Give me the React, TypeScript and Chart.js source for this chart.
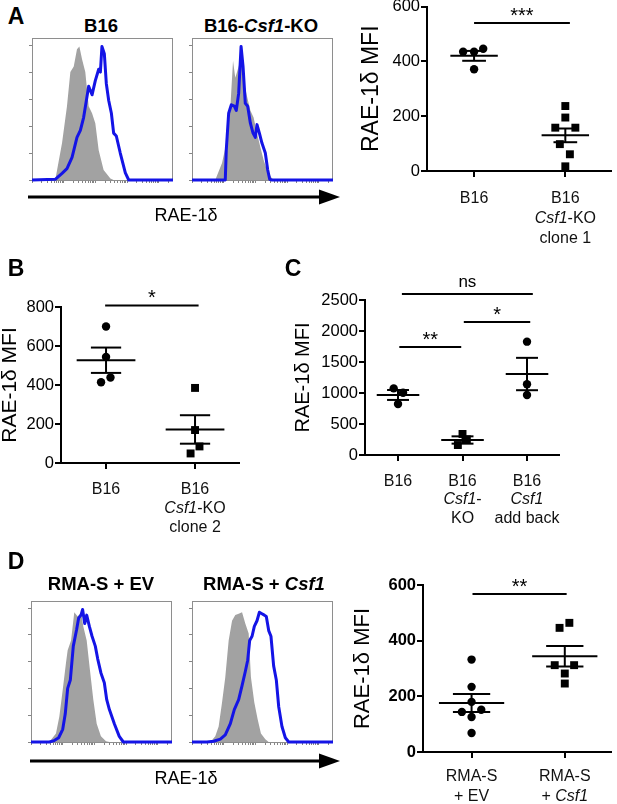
import React, { useEffect, useRef } from "react";
import { Chart, registerables } from "chart.js";

Chart.register(...registerables);

const FONT = "'Liberation Sans', Arial, Helvetica, sans-serif";

// ================= DATA =================
// Flow histograms: x = position along RAE-1δ axis (% of axis), y = % of mode
const A1_ISO_X = [16.5, 21.3, 24.8, 27.2, 29.6, 31.9, 33.6, 35.5, 37.8, 40.2, 42.6, 44.9, 47.3, 50.8, 55.6, 57.9];
const A1_ISO_Y = [0, 26, 52, 76, 80, 92, 94, 85, 76, 52, 47, 40, 21, 7, 1, 0];
const A1_STAIN_X = [0, 16.5, 21.3, 24.8, 28.4, 31.9, 34.3, 36.6, 40.2, 42.6, 44.9, 47.3, 48.5, 49.6, 51.3, 52.7, 54.4, 56.3, 57.9, 59.8, 62.6, 66.2, 68.6, 100];
const A1_STAIN_Y = [0, 0.5, 4.7, 8, 16, 30, 35, 44, 66, 60, 70, 78, 76, 94, 89, 68, 56, 47, 33, 31, 19, 5, 0, 0];

const A2_ISO_X = [16.5, 21.3, 24.8, 27.2, 29.1, 30.7, 33.1, 34.8, 36.6, 39.0, 41.4, 43.7, 46.1, 48.5, 50.8, 53.2, 56.7, 59.1];
const A2_ISO_Y = [0, 12, 28, 51, 84, 72, 80, 87, 70, 59, 49, 44, 33, 23, 14, 7, 1, 0];
const A2_STAIN_X = [0, 23.6, 24.3, 26.0, 27.9, 30.0, 31.4, 33.1, 34.8, 36.2, 37.8, 39.5, 41.4, 43.3, 44.9, 46.1, 47.8, 49.6, 52.0, 53.7, 55.1, 56.7, 100];
const A2_STAIN_Y = [0, 0, 21, 47, 53, 52, 49, 61, 94, 80, 54, 52, 40, 33, 30, 39, 33, 26, 19, 7, 0.5, 0, 0];

const D1_ISO_X = [13.0, 17.7, 20.1, 22.5, 24.8, 26.0, 28.4, 30.7, 33.1, 35.5, 37.1, 39.5, 41.8, 44.2, 46.6, 49.6, 53.2, 55.6];
const D1_ISO_Y = [0, 6, 18, 37, 56, 65, 72, 92, 89, 92, 82, 72, 51, 30, 13, 4, 0.5, 0];
const D1_STAIN_X = [0, 13.0, 16.5, 19.6, 22.5, 24.3, 26.0, 27.9, 30.0, 32.4, 33.8, 35.5, 36.6, 38.1, 39.5, 41.4, 43.3, 45.6, 47.3, 49.6, 52.0, 53.7, 55.6, 59.1, 62.6, 65.5, 100];
const D1_STAIN_Y = [0, 0, 1, 3, 9, 20, 38, 44, 68, 80, 88, 90, 94, 84, 90, 82, 75, 68, 59, 49, 42, 30, 23, 13, 4, 0, 0];

const D2_ISO_X = [13.0, 16.5, 18.9, 21.3, 23.6, 26.0, 28.4, 30.7, 33.1, 35.5, 37.8, 40.2, 41.8, 44.2, 46.6, 48.9, 52.0, 54.4];
const D2_ISO_Y = [0, 4, 11, 28, 46, 72, 86, 90, 91, 92, 84, 77, 46, 28, 16, 6, 2, 0];
const D2_STAIN_X = [0, 10.6, 15.4, 20.1, 23.6, 27.2, 30.0, 33.1, 35.5, 37.8, 39.5, 40.9, 42.6, 44.2, 46.1, 47.8, 49.6, 51.3, 52.7, 54.4, 56.0, 57.9, 59.8, 61.5, 63.8, 66.2, 68.6, 100];
const D2_STAIN_Y = [0, 0, 0.5, 2, 5, 13, 23, 30, 40, 50, 58, 72, 75, 82, 86, 92, 91, 90, 89, 79, 75, 54, 44, 25, 11, 3, 0, 0];

const HIST_Y_TICKS = [0, 19, 38, 57, 76, 95];

// Panel A dot plot
const A_CATS = [["B16"], ["B16", "_Csf1_-KO", "clone 1"]];
const A_Y_TICKS = [0, 200, 400, 600];
const A_B16 = [435, 435, 446, 371];
const A_B16_JITTER = [-0.12, 0, 0.1, 0];
const A_KO = [237, 195, 158, 158, 98, 61, 17];
const A_KO_JITTER = [0, 0, -0.11, 0.11, -0.06, 0.05, 0];
const A_MEANS = [420, 130];
const A_SEMS = [18, 25];
const A_SIG = [{ from: 1.0, to: 2.05, y: 540, text: "***" }];

// Panel B dot plot
const B_CATS = [["B16"], ["B16", "_Csf1_-KO", "clone 2"]];
const B_Y_TICKS = [0, 200, 400, 600, 800];
const B_B16 = [700, 544, 438, 414];
const B_B16_JITTER = [0, 0, 0.05, -0.056];
const B_KO = [385, 169, 85, 49];
const B_KO_JITTER = [0, 0, 0.05, -0.05];
const B_MEANS = [527, 172];
const B_SEMS = [65, 73];
const B_SIG = [{ from: 0.99, to: 2.04, y: 808, text: "*" }];

// Panel C dot plot
const C_CATS = [["B16"], ["B16", "_Csf1_-", "KO"], ["B16", "_Csf1_", "add back"]];
const C_Y_TICKS = [0, 500, 1000, 1500, 2000, 2500];
const C_B16 = [1075, 1005, 823];
const C_B16_JITTER = [-0.067, 0.078, 0];
const C_KO = [339, 253, 161];
const C_KO_JITTER = [0, 0.067, -0.072];
const C_ADD = [1828, 1140, 968];
const C_ADD_JITTER = [0, 0, 0];
const C_MEANS = [968, 242, 1306];
const C_SEMS = [80, 59, 261];
const C_SIG = [
  { from: 1.06, to: 3.09, y: 2597, text: "ns" },
  { from: 1.02, to: 1.98, y: 1742, text: "**" },
  { from: 2.02, to: 3.05, y: 2145, text: "*" },
];

// Panel D dot plot
const D_CATS = [["RMA-S", "+ EV"], ["RMA-S", "+ _Csf1_"]];
const D_Y_TICKS = [0, 200, 400, 600];
const D_EV = [332, 234, 180, 144, 152, 126, 68];
const D_EV_JITTER = [0, 0, 0, -0.104, 0.104, 0, 0];
const D_CSF = [446, 464, 312, 312, 282, 246];
const D_CSF_JITTER = [-0.056, 0.049, -0.108, 0.1, 0, 0];
const D_MEANS = [176, 344];
const D_SEMS = [32, 37];
const D_SIG = [{ from: 1.01, to: 2.02, y: 568, text: "**" }];

// ================= COMPONENTS =================
type Box = { left: number; top: number; right: number; bottom: number };

function Histogram(props: { box: Box; isoX: number[]; isoY: number[]; stX: number[]; stY: number[] }) {
  const ref = useRef<HTMLCanvasElement>(null);
  const { box } = props;
  const cLeft = box.left - 6;
  const cTop = box.top - 2;
  const cW = box.right - box.left + 8;
  const cH = box.bottom - box.top + 8;
  useEffect(() => {
    const frame = {
      id: "frame",
      beforeDatasetsDraw(chart: any) {
        const { ctx, chartArea: a } = chart;
        ctx.save();
        ctx.strokeStyle = "#8e8e8e";
        ctx.lineWidth = 1;
        ctx.strokeRect(a.left + 0.5, a.top + 0.5, a.right - a.left - 1, a.bottom - a.top);
        ctx.restore();
      },
    };
    const logTicks: number[] = [];
    [0, 22.5, 45, 67.5, 90].forEach((d) => {
      for (let k = 1; k <= 9; k++) {
        const v = d + 22.5 * Math.log10(k);
        if (v <= 100) logTicks.push(v);
      }
    });
    const chart = new Chart(ref.current!, {
      type: "line",
      data: {
        datasets: [
          {
            data: props.isoX.map((x, i) => ({ x, y: props.isoY[i] })),
            fill: "origin",
            backgroundColor: "#a2a2a2",
            borderWidth: 0,
            pointRadius: 0,
            tension: 0,
            order: 2,
          },
          {
            data: props.stX.map((x, i) => ({ x, y: props.stY[i] })),
            fill: false,
            borderColor: "#1414e6",
            borderWidth: 3,
            borderJoinStyle: "round",
            pointRadius: 0,
            tension: 0,
            clip: false,
            order: 1,
          },
        ],
      } as any,
      options: {
        animation: false,
        responsive: false,
        events: [],
        layout: { padding: { left: 0, top: 2, right: 2, bottom: 0 } },
        plugins: { legend: { display: false }, tooltip: { enabled: false } },
        scales: {
          x: {
            type: "linear",
            min: 0,
            max: 100,
            afterFit: (s: any) => {
              s.height = 6;
            },
            afterBuildTicks: (s: any) => {
              s.ticks = logTicks.map((v) => ({ value: v }));
            },
            ticks: { display: false },
            grid: { drawOnChartArea: false, drawTicks: true, tickLength: 3, color: "#666", lineWidth: 0.8 },
            border: { display: false },
          },
          y: {
            type: "linear",
            min: 0,
            max: 100,
            afterFit: (s: any) => {
              s.width = 6;
            },
            afterBuildTicks: (s: any) => {
              s.ticks = HIST_Y_TICKS.map((v) => ({ value: v }));
            },
            ticks: { display: false },
            grid: { drawOnChartArea: false, drawTicks: true, tickLength: 3, color: "#666", lineWidth: 0.8 },
            border: { display: false },
          },
        },
      } as any,
      plugins: [frame],
    });
    return () => chart.destroy();
  }, []);
  return (
    <canvas
      ref={ref}
      width={cW}
      height={cH}
      style={{ position: "absolute", left: cLeft, top: cTop, width: cW, height: cH }}
    />
  );
}

type Group = { values: number[]; jitter: number[]; shape: "circle" | "rect" };
type Sig = { from: number; to: number; y: number; text: string };
type ScatterProps = {
  canvas: { left: number; top: number; width: number; height: number };
  area: Box;
  xRange: [number, number];
  yTicks: number[];
  groups: Group[];
  means: number[];
  sems: number[];
  meanHalf: number;
  semHalf: number;
  sigs: Sig[];
  cats: string[][];
  lineOffsets: number[];
  titleX: number;
  titleSize: number;
  tickSize: number;
  tickBold?: boolean;
};

function DotPlot(p: ScatterProps) {
  const ref = useRef<HTMLCanvasElement>(null);
  const c = p.canvas;
  useEffect(() => {
    const X_AXIS_H = 8;
    const padTop = p.area.top - c.top;
    const padRight = c.left + c.width - p.area.right;
    const padBottom = c.top + c.height - p.area.bottom - X_AXIS_H;
    const yAxisW = p.area.left - c.left;
    const titlePad = Math.max(0, p.titleX - c.left - (p.titleSize * 1.2) / 2);
    const overlay = {
      id: "overlay",
      afterDatasetsDraw(chart: any) {
        const { ctx } = chart;
        const x = chart.scales.x;
        const y = chart.scales.y;
        ctx.save();
        ctx.strokeStyle = "#000";
        ctx.lineWidth = 2;
        const seg = (x0: number, x1: number, yv: number) => {
          ctx.beginPath();
          ctx.moveTo(x.getPixelForValue(x0), y.getPixelForValue(yv));
          ctx.lineTo(x.getPixelForValue(x1), y.getPixelForValue(yv));
          ctx.stroke();
        };
        p.means.forEach((m, i) => {
          const cx = i + 1;
          const s = p.sems[i];
          seg(cx - p.meanHalf, cx + p.meanHalf, m);
          seg(cx - p.semHalf, cx + p.semHalf, m + s);
          seg(cx - p.semHalf, cx + p.semHalf, m - s);
          ctx.beginPath();
          ctx.moveTo(x.getPixelForValue(cx), y.getPixelForValue(m + s));
          ctx.lineTo(x.getPixelForValue(cx), y.getPixelForValue(m - s));
          ctx.stroke();
        });
        p.sigs.forEach((sg) => {
          const py = y.getPixelForValue(sg.y);
          const x0 = x.getPixelForValue(sg.from);
          const x1 = x.getPixelForValue(sg.to);
          ctx.beginPath();
          ctx.moveTo(x0, py);
          ctx.lineTo(x1, py);
          ctx.stroke();
          const isNs = sg.text === "ns";
          ctx.font = `${isNs ? 17 : 20}px ${FONT}`;
          ctx.fillStyle = "#000";
          ctx.textAlign = "center";
          ctx.textBaseline = "alphabetic";
          ctx.fillText(sg.text, (x0 + x1) / 2, py - (isNs ? 7 : 1));
        });
        ctx.restore();
      },
      afterDraw(chart: any) {
        const { ctx, chartArea } = chart;
        const x = chart.scales.x;
        ctx.save();
        ctx.fillStyle = "#111";
        ctx.textBaseline = "middle";
        ctx.textAlign = "left";
        p.cats.forEach((lines, i) => {
          const cx = x.getPixelForValue(i + 1);
          lines.forEach((line, k) => {
            const segs = line
              .split("_")
              .map((t, j) => ({ t, it: j % 2 === 1 }))
              .filter((s) => s.t.length > 0);
            const fontFor = (s: { it: boolean }) => `${s.it ? "italic " : ""}16px ${FONT}`;
            let w = 0;
            segs.forEach((s) => {
              ctx.font = fontFor(s);
              w += ctx.measureText(s.t).width;
            });
            let xx = cx - w / 2;
            const yy = chartArea.bottom + p.lineOffsets[k];
            segs.forEach((s) => {
              ctx.font = fontFor(s);
              ctx.fillText(s.t, xx, yy);
              xx += ctx.measureText(s.t).width;
            });
          });
        });
        ctx.restore();
      },
    };
    const axisGrid = { drawOnChartArea: false, drawTicks: true, tickLength: 6, color: "#000", lineWidth: 2 };
    const axisBorder = { display: true, color: "#000", width: 2 };
    const chart = new Chart(ref.current!, {
      type: "scatter",
      data: {
        datasets: p.groups.map((g, gi) => ({
          data: g.values.map((v, j) => ({ x: gi + 1 + g.jitter[j], y: v })),
          pointStyle: g.shape,
          pointRadius: g.shape === "rect" ? 5.6 : 4.2,
          backgroundColor: "#000",
          borderWidth: 0,
          clip: false,
        })),
      } as any,
      options: {
        animation: false,
        responsive: false,
        events: [],
        layout: { padding: { left: 0, top: padTop, right: padRight, bottom: padBottom } },
        plugins: { legend: { display: false }, tooltip: { enabled: false } },
        scales: {
          x: {
            type: "linear",
            min: p.xRange[0],
            max: p.xRange[1],
            afterFit: (s: any) => {
              s.height = X_AXIS_H;
            },
            afterBuildTicks: (s: any) => {
              s.ticks = p.cats.map((_, i) => ({ value: i + 1 }));
            },
            ticks: { display: false },
            grid: axisGrid,
            border: axisBorder,
          },
          y: {
            type: "linear",
            min: p.yTicks[0],
            max: p.yTicks[p.yTicks.length - 1],
            afterFit: (s: any) => {
              s.width = yAxisW;
            },
            afterBuildTicks: (s: any) => {
              s.ticks = p.yTicks.map((v) => ({ value: v }));
            },
            ticks: {
              color: "#000",
              padding: 1,
              callback: (v: any) => String(v),
              font: { family: FONT, size: p.tickSize, weight: p.tickBold ? "bold" : "normal" },
            },
            grid: axisGrid,
            border: axisBorder,
            title: {
              display: true,
              text: "RAE-1δ MFI",
              color: "#000",
              font: { family: FONT, size: p.titleSize },
              padding: { top: titlePad, bottom: 0 },
            },
          },
        },
      } as any,
      plugins: [overlay],
    });
    return () => chart.destroy();
  }, []);
  return (
    <canvas
      ref={ref}
      width={c.width}
      height={c.height}
      style={{ position: "absolute", left: c.left, top: c.top, width: c.width, height: c.height }}
    />
  );
}

function Txt(props: { x: number; y: number; size: number; bold?: boolean; children: React.ReactNode }) {
  return (
    <div
      style={{
        position: "absolute",
        left: props.x,
        top: props.y,
        transform: "translate(-50%, -50%)",
        fontSize: props.size,
        fontWeight: props.bold ? "bold" : "normal",
        fontFamily: FONT,
        whiteSpace: "nowrap",
        lineHeight: 1,
        color: "#000",
      }}
    >
      {props.children}
    </div>
  );
}

function Arrow(props: { y: number; x0: number; x1: number }) {
  const { y, x0, x1 } = props;
  return (
    <svg width={617} height={20} style={{ position: "absolute", left: 0, top: y - 10 }}>
      <line x1={x0} y1={10} x2={x1 - 18} y2={10} stroke="#000" strokeWidth={3} />
      <polygon points={`${x1 - 21},2.5 ${x1},10 ${x1 - 21},17.5`} fill="#000" />
    </svg>
  );
}

export default function App() {
  return (
    <div
      style={{
        position: "absolute",
        left: 0,
        top: 0,
        width: 617,
        height: 804,
        overflow: "hidden",
        background: "#fff",
        fontFamily: FONT,
      }}
    >
      {/* Panel A histograms */}
      <Histogram box={{ left: 32, top: 38, right: 173, bottom: 180 }} isoX={A1_ISO_X} isoY={A1_ISO_Y} stX={A1_STAIN_X} stY={A1_STAIN_Y} />
      <Histogram box={{ left: 192, top: 38, right: 333, bottom: 180 }} isoX={A2_ISO_X} isoY={A2_ISO_Y} stX={A2_STAIN_X} stY={A2_STAIN_Y} />
      {/* Panel D histograms */}
      <Histogram box={{ left: 31, top: 601, right: 172, bottom: 742 }} isoX={D1_ISO_X} isoY={D1_ISO_Y} stX={D1_STAIN_X} stY={D1_STAIN_Y} />
      <Histogram box={{ left: 192, top: 601, right: 333, bottom: 742 }} isoX={D2_ISO_X} isoY={D2_ISO_Y} stX={D2_STAIN_X} stY={D2_STAIN_Y} />

      <DotPlot
        canvas={{ left: 330, top: -6, width: 287, height: 256 }}
        area={{ left: 427, top: 6.5, right: 615, bottom: 171 }}
        xRange={[0.484, 2.505]}
        yTicks={A_Y_TICKS}
        groups={[
          { values: A_B16, jitter: A_B16_JITTER, shape: "circle" },
          { values: A_KO, jitter: A_KO_JITTER, shape: "rect" },
        ]}
        means={A_MEANS}
        sems={A_SEMS}
        meanHalf={0.26}
        semHalf={0.13}
        sigs={A_SIG}
        cats={A_CATS}
        lineOffsets={[28, 48, 68]}
        titleX={372}
        titleSize={23}
        tickSize={16.5}
      />
      <DotPlot
        canvas={{ left: -4, top: 278, width: 250, height: 272 }}
        area={{ left: 61, top: 307, right: 239, bottom: 463 }}
        xRange={[0.494, 2.494]}
        yTicks={B_Y_TICKS}
        groups={[
          { values: B_B16, jitter: B_B16_JITTER, shape: "circle" },
          { values: B_KO, jitter: B_KO_JITTER, shape: "rect" },
        ]}
        means={B_MEANS}
        sems={B_SEMS}
        meanHalf={0.33}
        semHalf={0.17}
        sigs={B_SIG}
        cats={B_CATS}
        lineOffsets={[27, 46, 65]}
        titleX={10}
        titleSize={21}
        tickSize={16.5}
      />
      <DotPlot
        canvas={{ left: 285, top: 270, width: 290, height: 265 }}
        area={{ left: 365, top: 300, right: 559, bottom: 455 }}
        xRange={[0.488, 3.496]}
        yTicks={C_Y_TICKS}
        groups={[
          { values: C_B16, jitter: C_B16_JITTER, shape: "circle" },
          { values: C_KO, jitter: C_KO_JITTER, shape: "rect" },
          { values: C_ADD, jitter: C_ADD_JITTER, shape: "circle" },
        ]}
        means={C_MEANS}
        sems={C_SEMS}
        meanHalf={0.33}
        semHalf={0.17}
        sigs={C_SIG}
        cats={C_CATS}
        lineOffsets={[27, 45, 64]}
        titleX={303}
        titleSize={20}
        tickSize={16.5}
      />
      <DotPlot
        canvas={{ left: 340, top: 565, width: 277, height: 239 }}
        area={{ left: 423, top: 585, right: 617, bottom: 752 }}
        xRange={[0.479, 2.5]}
        yTicks={D_Y_TICKS}
        groups={[
          { values: D_EV, jitter: D_EV_JITTER, shape: "circle" },
          { values: D_CSF, jitter: D_CSF_JITTER, shape: "rect" },
        ]}
        means={D_MEANS}
        sems={D_SEMS}
        meanHalf={0.35}
        semHalf={0.2}
        sigs={D_SIG}
        cats={D_CATS}
        lineOffsets={[25, 45]}
        titleX={363}
        titleSize={22}
        tickSize={16.5}
        tickBold
      />

      {/* Panel letters */}
      <Txt x={16} y={16} size={23} bold>A</Txt>
      <Txt x={16} y={268} size={23} bold>B</Txt>
      <Txt x={293} y={268} size={23} bold>C</Txt>
      <Txt x={16} y={561} size={23} bold>D</Txt>

      {/* Histogram titles */}
      <Txt x={101} y={26} size={18.5} bold>B16</Txt>
      <Txt x={261} y={26} size={18.5} bold>
        B16-<i>Csf1</i>-KO
      </Txt>
      <Txt x={101} y={584} size={18.5} bold>RMA-S + EV</Txt>
      <Txt x={264} y={584} size={18.5} bold>
        RMA-S + <i>Csf1</i>
      </Txt>

      {/* Axis arrows */}
      <Arrow y={197} x0={28} x1={340} />
      <Arrow y={761} x0={30} x1={340} />
      <Txt x={186} y={215} size={18}>RAE-1δ</Txt>
      <Txt x={186} y={778} size={18}>RAE-1δ</Txt>
    </div>
  );
}
